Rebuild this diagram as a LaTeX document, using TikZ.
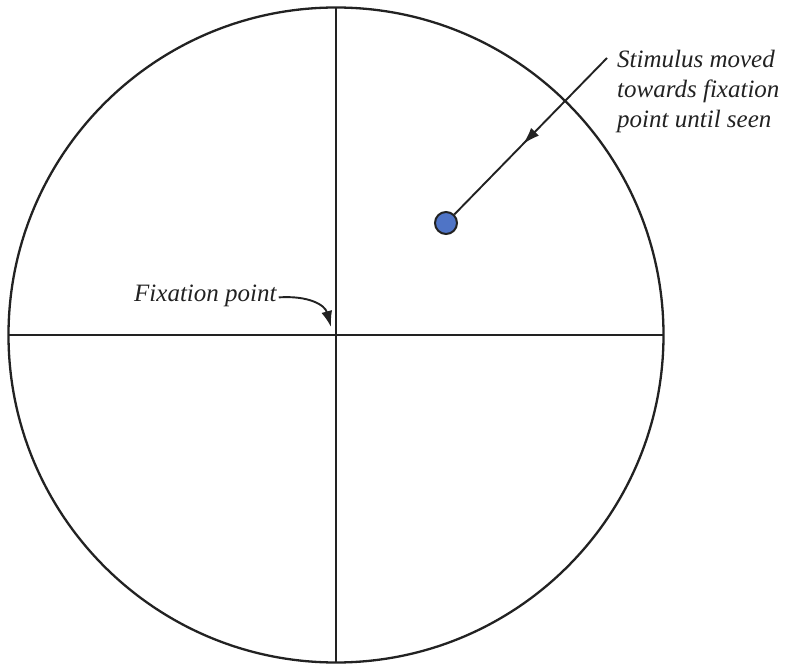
\documentclass[tikz,border=0pt]{standalone}
\usepackage{fontspec}
\setmainfont{Liberation Serif}
\usetikzlibrary{arrows.meta,decorations.markings}
\definecolor{ink}{HTML}{222222}
\definecolor{dotblue}{HTML}{4F74C6}
\tikzset{
  axisline/.style={draw=ink,line width=2.3pt},
  pointer/.style={draw=ink,line width=1.9pt},
  stimdot/.style={circle,draw=ink,line width=2pt,fill=dotblue,minimum size=22pt,inner sep=0pt},
  lbl/.style={font=\fontsize{25}{30}\selectfont\itshape,text=ink,inner sep=0pt,align=left},
}
\begin{document}
\begin{tikzpicture}[x=1pt,y=-1pt]
\useasboundingbox (0,0) rectangle (790,668);
\coordinate (c) at (336,335);
\coordinate (top) at (336,7);
\coordinate (bot) at (336,663);
\coordinate (lft) at (8.5,335);
\coordinate (rgt) at (663.5,335);
\draw[axisline] (c) circle[radius=327.5pt];
\draw[axisline] (top) -- (bot);
\draw[axisline] (lft) -- (rgt);
% stimulus
\node[stimdot] (stim) at (446,223) {};
\coordinate (astart) at (607,58);
\draw[pointer,decoration={markings,mark=at position 0.55 with {\arrow{Latex[length=17pt,width=11pt]}}},postaction={decorate}] (astart) -- (stim);
\node[lbl,anchor=base west] (stimtext) at (617,128) {Stimulus moved\\towards fixation\\point until seen};
% fixation point
\node[lbl,anchor=base west] (fixtext) at (134,302) {Fixation point};
\coordinate (fixtip) at (331,327);
\draw[pointer,-{Latex[length=16pt,width=11pt]}] ([xshift=2pt,yshift=-1pt]fixtext.east) .. controls +(30,-2) and +(-6,-22) .. (fixtip);
\end{tikzpicture}
\end{document}
